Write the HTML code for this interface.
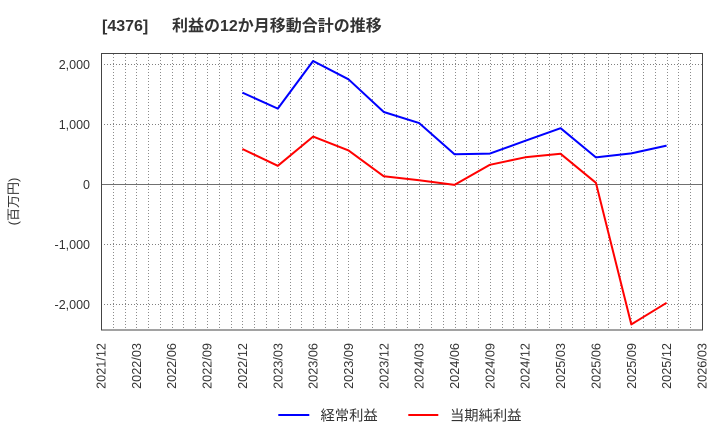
<!DOCTYPE html>
<html><head><meta charset="utf-8"><style>
html,body{margin:0;padding:0;background:#fff;}
svg{display:block;}
text{font-family:"Liberation Sans","Noto Sans CJK JP",sans-serif;fill:#333;}
</style></head><body>
<svg width="720" height="440" viewBox="0 0 720 440" xmlns="http://www.w3.org/2000/svg">
<rect x="0" y="0" width="720" height="440" fill="#fff"/>
<text x="102" y="31" font-size="16" font-weight="bold">[4376]</text>
<text x="172" y="31" font-size="16" font-weight="bold">利益の12か月移動合計の推移</text>
<g id="vgrid" stroke="#8c8c8c" stroke-width="1" stroke-dasharray="1,2">
</g>
<g stroke="#808080" stroke-width="1" stroke-dasharray="1,2">
<line x1="101" y1="64.5" x2="702" y2="64.5"/>
<line x1="101" y1="124.5" x2="702" y2="124.5"/>
<line x1="101" y1="244.5" x2="702" y2="244.5"/>
<line x1="101" y1="304.5" x2="702" y2="304.5"/>
</g>
<line x1="101" y1="184.5" x2="702" y2="184.5" stroke="#707070" stroke-width="1"/>
<rect x="101.5" y="53.5" width="601" height="276.5" fill="none" stroke="#444" stroke-width="1"/>
<g font-size="12.5" text-anchor="end">
<text x="90" y="68.8">2,000</text>
<text x="90" y="128.8">1,000</text>
<text x="90" y="188.8">0</text>
<text x="90" y="248.8">-1,000</text>
<text x="90" y="308.8">-2,000</text>
</g>
<text transform="translate(18,201.5) rotate(-90)" font-size="13" text-anchor="middle">(百万円)</text>
<g id="xlabels" font-size="12.7" text-anchor="end"></g>
<polyline fill="none" stroke="#0000ff" stroke-width="2" stroke-linejoin="round" points="242.4,92.6 277.8,108.6 313.1,61.0 348.5,79.3 383.8,112.0 419.2,123.1 454.5,154.3 489.9,153.6 525.2,140.8 560.6,128.2 595.9,157.4 631.3,153.4 666.6,145.6"/>
<polyline fill="none" stroke="#ff0000" stroke-width="2" stroke-linejoin="round" points="242.4,149.0 277.8,165.8 313.1,136.6 348.5,150.4 383.8,176.3 419.2,180.3 454.5,184.9 489.9,164.8 525.2,157.3 560.6,153.8 595.9,182.8 631.3,324.4 666.6,302.8"/>
<line x1="278.3" y1="415" x2="309.3" y2="415" stroke="#0000ff" stroke-width="2"/>
<text x="320.5" y="420.5" font-size="14.3">経常利益</text>
<line x1="408.3" y1="415" x2="438.3" y2="415" stroke="#ff0000" stroke-width="2"/>
<text x="450" y="420.5" font-size="14.3">当期純利益</text>
</svg>
<script>
(function(){
var ns="http://www.w3.org/2000/svg";
var g=document.getElementById("vgrid");
for(var m=1;m<51;m++){var x=Math.round(101+m*601/51)+0.5;var l=document.createElementNS(ns,"line");
l.setAttribute("x1",x);l.setAttribute("x2",x);l.setAttribute("y1",54);l.setAttribute("y2",330);g.appendChild(l);}
var xl=document.getElementById("xlabels");
var labs=["2021/12","2022/03","2022/06","2022/09","2022/12","2023/03","2023/06","2023/09","2023/12","2024/03","2024/06","2024/09","2024/12","2025/03","2025/06","2025/09","2025/12","2026/03"];
for(var i=0;i<labs.length;i++){var x=101+i*3*601/51;var t=document.createElementNS(ns,"text");
t.setAttribute("transform","translate("+(x+4.5)+",343) rotate(-90)");t.textContent=labs[i];xl.appendChild(t);}
})();
</script>
</body></html>
